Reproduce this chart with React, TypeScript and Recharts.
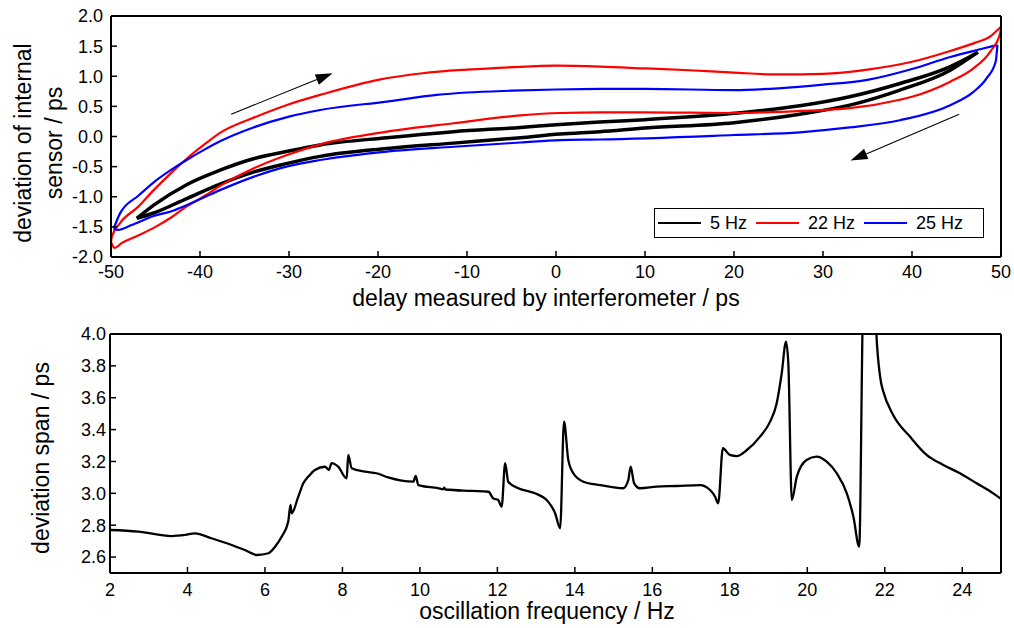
import { LineChart, Line, XAxis, YAxis, ReferenceLine, Legend } from "recharts";

const FONT = "'Liberation Sans', Arial, Helvetica, sans-serif";

// top panel: hysteresis loops, delay (ps) vs sensor deviation (ps)
// each loop is split into its upper (rising) and lower (returning) branch, both listed left to right
const loopNames = ["5 Hz", "22 Hz", "25 Hz"];
const loopColors = ["#000000", "#ff0000", "#0000ff"];
const loopWidths = [3.5, 2.2, 2.2];

const up5X = [-47.1, -45.2, -41.5, -37.75, -34, -30.3, -26.5, -19, -11.5, -4, 0.45, 4.9, 10, 20, 27.4, 33, 38.65, 44.3, 46.6, 47.4];
const up5Y = [-1.36, -1.14, -0.8, -0.56, -0.37, -0.25, -0.14, -0.02, 0.08, 0.15, 0.2, 0.24, 0.28, 0.385, 0.51, 0.66, 0.88, 1.16, 1.33, 1.4];
const low5X = [-47.1, -45.2, -41.5, -37.75, -34, -30.3, -26.5, -19, -11.5, -4, 0.45, 4.9, 10, 20, 27.4, 33, 38.65, 44.3, 47.4];
const low5Y = [-1.36, -1.27, -1.03, -0.79, -0.59, -0.45, -0.33, -0.2, -0.11, -0.02, 0.04, 0.08, 0.14, 0.23, 0.37, 0.52, 0.77, 1.1, 1.4];

const up22X = [-50, -49.9, -49, -46.9, -45.2, -43.2, -41.5, -39.4, -37.75, -34, -30.3, -26.5, -20, -15, -10, -5, 0, 5, 10, 15, 20, 25, 30, 35, 40, 44.3, 47, 48.8, 49.7, 50];
const up22Y = [-1.75, -1.66, -1.44, -1.16, -0.89, -0.6, -0.37, -0.12, 0.06, 0.31, 0.52, 0.69, 0.94, 1.05, 1.11, 1.15, 1.175, 1.16, 1.13, 1.1, 1.06, 1.03, 1.04, 1.11, 1.24, 1.42, 1.55, 1.66, 1.78, 1.82];
const low22X = [-50, -49.6, -48.8, -46.9, -45, -43.2, -41.5, -39.4, -37.75, -34, -30.3, -26.5, -19, -11.5, -4, 0.45, 5, 10, 15, 20, 25, 33, 38.65, 40, 44.3, 46.9, 48.8, 49.9, 50];
const low22Y = [-1.75, -1.85, -1.77, -1.64, -1.5, -1.34, -1.16, -0.98, -0.82, -0.53, -0.31, -0.13, 0.08, 0.22, 0.35, 0.39, 0.4, 0.4, 0.395, 0.39, 0.41, 0.47, 0.61, 0.66, 0.91, 1.13, 1.41, 1.71, 1.82];

const up25X = [-49.7, -49, -46.9, -45.2, -43.2, -41.5, -39.4, -37.75, -34, -30, -26.5, -19, -13.4, -10, -5, 0, 5, 10, 20, 25, 30, 35, 40, 44.3, 48, 49.6];
const up25Y = [-1.53, -1.28, -0.98, -0.76, -0.55, -0.39, -0.21, -0.08, 0.15, 0.33, 0.44, 0.58, 0.69, 0.73, 0.76, 0.78, 0.79, 0.79, 0.77, 0.8, 0.86, 0.94, 1.12, 1.32, 1.46, 1.52];
const low25X = [-49.7, -49.2, -47.7, -45.2, -43.2, -41.5, -37.75, -34, -30.3, -26.5, -19, -11.5, -4, 0.45, 4.9, 20, 27.4, 33, 38.65, 44.3, 46.9, 48.4, 49.4, 49.6];
const low25Y = [-1.53, -1.55, -1.47, -1.32, -1.24, -1.14, -0.89, -0.67, -0.5, -0.39, -0.25, -0.17, -0.1, -0.06, -0.05, 0.025, 0.07, 0.15, 0.27, 0.52, 0.74, 0.97, 1.24, 1.52];

// direction arrows (tail -> head)
const arrowTails = [{ x: -36.5, y: 0.37 }, { x: 45.3, y: 0.37 }];
const arrowHeads = [{ x: -25.1, y: 1.05 }, { x: 33.1, y: -0.4 }];

const topXMajor = [-50, -40, -30, -20, -10, 0, 10, 20, 30, 40, 50];
const topXMinor = [-45, -35, -25, -15, -5, 5, 15, 25, 35, 45];
const topYMajor = [-2, -1.5, -1, -0.5, 0, 0.5, 1, 1.5, 2];
const topYMinor = [-1.75, -1.25, -0.75, -0.25, 0.25, 0.75, 1.25, 1.75];

// bottom panel: deviation span vs oscillation frequency
const freqs = [2.0, 2.73, 3.59, 3.94, 4.19, 4.62, 5.14, 5.48, 5.79, 6.09, 6.26, 6.43, 6.6, 6.66, 6.69, 6.86, 6.99, 7.12, 7.29, 7.55, 7.65, 7.72, 7.89, 8.11, 8.15, 8.24, 8.58, 8.88, 9.18, 9.83, 9.89, 9.96, 10.47, 10.6, 10.63, 10.66, 11.34, 11.77, 11.89, 12.02, 12.11, 12.2, 12.28, 12.54, 12.97, 13.31, 13.49, 13.62, 13.72, 13.83, 13.96, 14.22, 14.65, 15.25, 15.38, 15.44, 15.53, 15.68, 16.11, 16.63, 17.23, 17.49, 17.62, 17.7, 17.82, 18.0, 18.18, 18.44, 18.78, 19.04, 19.21, 19.34, 19.45, 19.51, 19.6, 19.73, 19.98, 20.24, 20.5, 20.76, 21.02, 21.19, 21.34, 21.45, 21.58, 21.72, 21.8, 21.9, 21.96, 22.22, 22.65, 23.08, 23.51, 23.94, 24.37, 24.8, 25.0];
const spans = [2.77, 2.76, 2.732, 2.739, 2.749, 2.718, 2.676, 2.644, 2.613, 2.624, 2.665, 2.728, 2.822, 2.927, 2.875, 2.979, 3.063, 3.105, 3.147, 3.167, 3.147, 3.189, 3.167, 3.094, 3.241, 3.157, 3.136, 3.126, 3.1, 3.073, 3.109, 3.052, 3.032, 3.025, 3.035, 3.024, 3.015, 3.01, 2.969, 2.958, 2.916, 3.189, 3.073, 3.032, 3.0, 2.948, 2.875, 2.781, 3.45, 3.21, 3.126, 3.073, 3.052, 3.032, 3.084, 3.167, 3.063, 3.032, 3.042, 3.046, 3.052, 3.021, 2.979, 2.937, 3.283, 3.241, 3.234, 3.272, 3.356, 3.45, 3.565, 3.754, 3.952, 3.816, 2.958, 3.105, 3.209, 3.23, 3.199, 3.126, 3.0, 2.853, 2.665, 4.3, 4.4, 4.3, 3.93, 3.7, 3.64, 3.49, 3.356, 3.241, 3.178, 3.126, 3.063, 3.0, 2.965];

const botXMajor = [2, 4, 6, 8, 10, 12, 14, 16, 18, 20, 22, 24];
const botXMinor = [3, 5, 7, 9, 11, 13, 15, 17, 19, 21, 23, 25];
const botYMajor = [2.6, 2.8, 3.0, 3.2, 3.4, 3.6, 3.8, 4.0];
const botYMinor = [2.7, 2.9, 3.1, 3.3, 3.5, 3.7, 3.9];

const pts = (xs: number[], ys: number[]) => xs.map((x, i) => ({ x, y: ys[i] }));
const branches = [
  { name: loopNames[0], up: pts(up5X, up5Y), low: pts(low5X, low5Y) },
  { name: loopNames[1], up: pts(up22X, up22Y), low: pts(low22X, low22Y) },
  { name: loopNames[2], up: pts(up25X, up25Y), low: pts(low25X, low25Y) },
];
const spanData = freqs.map((f, i) => ({ f, span: spans[i] }));

const tickLine = { stroke: "#000", strokeWidth: 1.5 };
const frame = { stroke: "#000", strokeWidth: 2 };
const tickText = { fill: "#000", fontSize: 18, fontFamily: FONT };

function Title(props: any) {
  const { tx, ty, lines, vertical, gap } = props;
  return (
    <text
      x={tx}
      y={ty}
      textAnchor="middle"
      fontSize={23}
      fontFamily={FONT}
      fill="#000"
      transform={vertical ? `rotate(-90 ${tx} ${ty})` : undefined}
    >
      {lines.map((l: string, i: number) => (
        <tspan key={i} x={tx} dy={i === 0 ? 0 : gap}>
          {l}
        </tspan>
      ))}
    </text>
  );
}

function Arrow(props: any) {
  const { x1, y1, x2, y2 } = props;
  const a = Math.atan2(y2 - y1, x2 - x1);
  const L = 17;
  const W = 5.5;
  const bx = x2 - L * Math.cos(a);
  const by = y2 - L * Math.sin(a);
  const nx = -Math.sin(a) * W;
  const ny = Math.cos(a) * W;
  return (
    <g>
      <line x1={x1} y1={y1} x2={bx} y2={by} stroke="#000" strokeWidth={1.1} />
      <polygon points={`${x2},${y2} ${bx + nx},${by + ny} ${bx - nx},${by - ny}`} fill="#000" />
    </g>
  );
}

function LoopLegend(props: any) {
  const items = (props.payload || [])
    .filter((it: any) => loopNames.includes(it.value))
    .sort((a: any, b: any) => loopNames.indexOf(a.value) - loopNames.indexOf(b.value));
  return (
    <div
      style={{
        border: "1.3px solid #000",
        height: 30,
        boxSizing: "border-box",
        display: "flex",
        alignItems: "center",
        paddingLeft: 3,
        background: "#fff",
        fontFamily: FONT,
        fontSize: 18,
        color: "#000",
      }}
    >
      {items.map((it: any) => (
        <div key={it.value} style={{ display: "flex", alignItems: "center" }}>
          <svg width={43} height={4}>
            <line x1={0} y1={2} x2={43} y2={2} stroke={it.color} strokeWidth={2} />
          </svg>
          <span style={{ marginLeft: 9, marginRight: 9 }}>{it.value}</span>
        </div>
      ))}
    </div>
  );
}

// short inward minor ticks on all sides plus the top / right halves of the frame;
// every axis keeps a 1px size so that it is drawn
function frameAxes(xd: number[], yd: number[], xMaj: number[], xMin: number[], yMaj: number[], yMin: number[]) {
  const c = { type: "number" as const, interval: 0 as const, allowDataOverflow: true, tick: false as const, tickLine };
  return [
    <XAxis key="xm" xAxisId="xm" {...c} domain={xd} ticks={xMin} height={1} tickSize={-3} axisLine={false} />,
    <XAxis key="xtm" xAxisId="xtm" orientation="top" {...c} domain={xd} ticks={xMin} height={1} tickSize={-3} axisLine={false} />,
    <XAxis key="xt" xAxisId="xt" orientation="top" {...c} domain={xd} ticks={xMaj} height={1} tickSize={-6} axisLine={frame} />,
    <YAxis key="ym" yAxisId="ym" {...c} domain={yd} ticks={yMin} width={1} tickSize={-3} axisLine={false} />,
    <YAxis key="yrm" yAxisId="yrm" orientation="right" {...c} domain={yd} ticks={yMin} width={1} tickSize={-3} axisLine={false} />,
    <YAxis key="yr" yAxisId="yr" orientation="right" {...c} domain={yd} ticks={yMaj} width={1} tickSize={-6} axisLine={frame} />,
  ];
}

export default function App() {
  return (
    <div style={{ position: "absolute", left: 0, top: 0, width: 1014, height: 628, background: "#fff" }}>
      <div style={{ position: "absolute", left: 0, top: 0 }}>
        <LineChart width={1014} height={315} margin={{ top: 14, right: 11, bottom: 56, left: 109 }}>
          {frameAxes([-50, 50], [-2, 2], topXMajor, topXMinor, topYMajor, topYMinor)}
          <XAxis
            dataKey="x"
            type="number"
            domain={[-50, 50]}
            allowDataOverflow
            ticks={topXMajor}
            interval={0}
            height={1}
            tickSize={-6}
            tickMargin={14}
            tickLine={tickLine}
            axisLine={frame}
            tick={tickText}
            label={<Title tx={546} ty={306} lines={["delay measured by interferometer / ps"]} />}
          />
          <YAxis
            type="number"
            domain={[-2, 2]}
            allowDataOverflow
            ticks={topYMajor}
            interval={0}
            width={1}
            tickSize={-6}
            tickMargin={14}
            tickLine={tickLine}
            axisLine={frame}
            tick={tickText}
            tickFormatter={(v: number) => v.toFixed(1)}
            label={<Title tx={31} ty={143} vertical gap={31} lines={["deviation of internal", "sensor / ps"]} />}
          />
          {branches.map((b, i) => (
            <Line
              key={b.name + "-up"}
              data={b.up}
              dataKey="y"
              name={b.name}
              type="monotone"
              stroke={loopColors[i]}
              strokeWidth={loopWidths[i]}
              dot={false}
              activeDot={false}
              isAnimationActive={false}
            />
          ))}
          {branches.map((b, i) => (
            <Line
              key={b.name + "-low"}
              data={b.low}
              dataKey="y"
              name={b.name + " return"}
              legendType="none"
              type="monotone"
              stroke={loopColors[i]}
              strokeWidth={loopWidths[i]}
              dot={false}
              activeDot={false}
              isAnimationActive={false}
            />
          ))}
          {arrowTails.map((t, i) => (
            <ReferenceLine key={i} segment={[t, arrowHeads[i]]} shape={Arrow} />
          ))}
          <Legend
            layout="horizontal"
            verticalAlign="middle"
            align="center"
            wrapperStyle={{ left: 654, top: 208, width: 330 }}
            content={LoopLegend}
          />
        </LineChart>
      </div>

      <div style={{ position: "absolute", left: 0, top: 320 }}>
        <LineChart data={spanData} width={1014} height={308} margin={{ top: 12, right: 11, bottom: 53, left: 108 }}>
          {frameAxes([2, 25], [2.5, 4.0], botXMajor, botXMinor, botYMajor, botYMinor)}
          <XAxis
            dataKey="f"
            type="number"
            domain={[2, 25]}
            allowDataOverflow
            ticks={botXMajor}
            interval={0}
            height={1}
            tickSize={-6}
            tickMargin={16}
            tickLine={tickLine}
            axisLine={frame}
            tick={tickText}
            label={<Title tx={547} ty={299} lines={["oscillation frequency / Hz"]} />}
          />
          <YAxis
            type="number"
            domain={[2.5, 4.0]}
            allowDataOverflow
            ticks={botYMajor}
            interval={0}
            width={1}
            tickSize={-6}
            tickMargin={10}
            tickLine={tickLine}
            axisLine={frame}
            tick={tickText}
            tickFormatter={(v: number) => v.toFixed(1)}
            label={<Title tx={49} ty={138} vertical gap={0} lines={["deviation span / ps"]} />}
          />
          <Line
            dataKey="span"
            type="monotone"
            stroke="#000"
            strokeWidth={2.3}
            dot={false}
            activeDot={false}
            isAnimationActive={false}
          />
        </LineChart>
      </div>
    </div>
  );
}
